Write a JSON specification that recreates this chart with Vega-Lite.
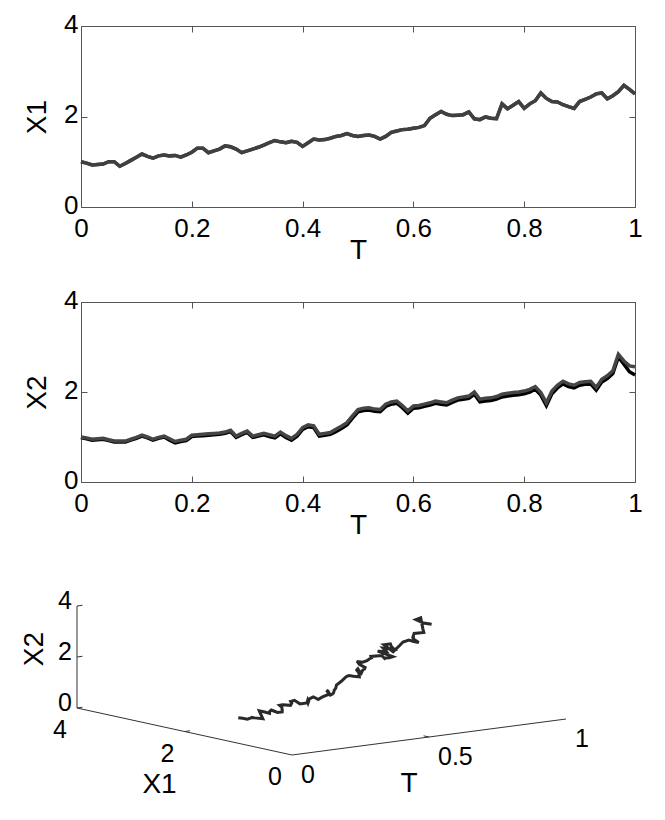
{
  "$schema": "https://vega.github.io/schema/vega-lite/v6.json",
  "autosize": {"type": "pad"},
  "padding": {"left": 21, "top": 11, "right": 5, "bottom": 5},
  "background": "white",
  "bounds": "flush",
  "spacing": 95,
  "datasets": {
    "path": [
      {"T":0.00,"X1":1.00,"X2":1.00,"X2b":0.99},
      {"T":0.01,"X1":0.97,"X2":0.98,"X2b":0.96},
      {"T":0.02,"X1":0.93,"X2":0.95,"X2b":0.93},
      {"T":0.03,"X1":0.94,"X2":0.96,"X2b":0.94},
      {"T":0.04,"X1":0.95,"X2":0.97,"X2b":0.95},
      {"T":0.05,"X1":1.00,"X2":0.94,"X2b":0.92},
      {"T":0.06,"X1":1.00,"X2":0.91,"X2b":0.89},
      {"T":0.07,"X1":0.90,"X2":0.91,"X2b":0.89},
      {"T":0.08,"X1":0.96,"X2":0.91,"X2b":0.89},
      {"T":0.09,"X1":1.03,"X2":0.95,"X2b":0.93},
      {"T":0.10,"X1":1.10,"X2":0.99,"X2b":0.97},
      {"T":0.11,"X1":1.17,"X2":1.04,"X2b":1.02},
      {"T":0.12,"X1":1.12,"X2":1.00,"X2b":0.98},
      {"T":0.13,"X1":1.08,"X2":0.95,"X2b":0.93},
      {"T":0.14,"X1":1.13,"X2":0.99,"X2b":0.97},
      {"T":0.15,"X1":1.15,"X2":1.02,"X2b":1.00},
      {"T":0.16,"X1":1.13,"X2":0.96,"X2b":0.93},
      {"T":0.17,"X1":1.14,"X2":0.90,"X2b":0.87},
      {"T":0.18,"X1":1.10,"X2":0.93,"X2b":0.90},
      {"T":0.19,"X1":1.15,"X2":0.95,"X2b":0.92},
      {"T":0.20,"X1":1.21,"X2":1.04,"X2b":1.01},
      {"T":0.21,"X1":1.30,"X2":1.05,"X2b":1.02},
      {"T":0.22,"X1":1.30,"X2":1.06,"X2b":1.03},
      {"T":0.23,"X1":1.20,"X2":1.07,"X2b":1.04},
      {"T":0.24,"X1":1.24,"X2":1.08,"X2b":1.05},
      {"T":0.25,"X1":1.28,"X2":1.09,"X2b":1.06},
      {"T":0.26,"X1":1.35,"X2":1.11,"X2b":1.08},
      {"T":0.27,"X1":1.33,"X2":1.15,"X2b":1.12},
      {"T":0.28,"X1":1.28,"X2":1.02,"X2b":0.99},
      {"T":0.29,"X1":1.20,"X2":1.08,"X2b":1.05},
      {"T":0.30,"X1":1.24,"X2":1.13,"X2b":1.10},
      {"T":0.31,"X1":1.28,"X2":1.02,"X2b":0.99},
      {"T":0.32,"X1":1.32,"X2":1.05,"X2b":1.02},
      {"T":0.33,"X1":1.37,"X2":1.08,"X2b":1.05},
      {"T":0.34,"X1":1.42,"X2":1.05,"X2b":1.01},
      {"T":0.35,"X1":1.47,"X2":1.02,"X2b":0.98},
      {"T":0.36,"X1":1.44,"X2":1.11,"X2b":1.07},
      {"T":0.37,"X1":1.42,"X2":1.03,"X2b":0.99},
      {"T":0.38,"X1":1.45,"X2":0.97,"X2b":0.93},
      {"T":0.39,"X1":1.43,"X2":1.06,"X2b":1.02},
      {"T":0.40,"X1":1.34,"X2":1.21,"X2b":1.17},
      {"T":0.41,"X1":1.42,"X2":1.27,"X2b":1.23},
      {"T":0.42,"X1":1.50,"X2":1.25,"X2b":1.21},
      {"T":0.43,"X1":1.48,"X2":1.06,"X2b":1.02},
      {"T":0.44,"X1":1.49,"X2":1.08,"X2b":1.04},
      {"T":0.45,"X1":1.52,"X2":1.10,"X2b":1.06},
      {"T":0.46,"X1":1.56,"X2":1.17,"X2b":1.12},
      {"T":0.47,"X1":1.58,"X2":1.24,"X2b":1.19},
      {"T":0.48,"X1":1.62,"X2":1.32,"X2b":1.27},
      {"T":0.49,"X1":1.58,"X2":1.47,"X2b":1.42},
      {"T":0.50,"X1":1.56,"X2":1.61,"X2b":1.56},
      {"T":0.51,"X1":1.58,"X2":1.64,"X2b":1.59},
      {"T":0.52,"X1":1.59,"X2":1.65,"X2b":1.60},
      {"T":0.53,"X1":1.56,"X2":1.62,"X2b":1.57},
      {"T":0.54,"X1":1.50,"X2":1.61,"X2b":1.56},
      {"T":0.55,"X1":1.56,"X2":1.73,"X2b":1.68},
      {"T":0.56,"X1":1.65,"X2":1.78,"X2b":1.73},
      {"T":0.57,"X1":1.68,"X2":1.80,"X2b":1.75},
      {"T":0.58,"X1":1.71,"X2":1.70,"X2b":1.65},
      {"T":0.59,"X1":1.72,"X2":1.58,"X2b":1.53},
      {"T":0.60,"X1":1.74,"X2":1.69,"X2b":1.64},
      {"T":0.61,"X1":1.76,"X2":1.70,"X2b":1.65},
      {"T":0.62,"X1":1.80,"X2":1.73,"X2b":1.68},
      {"T":0.63,"X1":1.96,"X2":1.76,"X2b":1.71},
      {"T":0.64,"X1":2.04,"X2":1.80,"X2b":1.75},
      {"T":0.65,"X1":2.11,"X2":1.78,"X2b":1.73},
      {"T":0.66,"X1":2.05,"X2":1.76,"X2b":1.71},
      {"T":0.67,"X1":2.02,"X2":1.82,"X2b":1.77},
      {"T":0.68,"X1":2.03,"X2":1.87,"X2b":1.82},
      {"T":0.69,"X1":2.04,"X2":1.89,"X2b":1.84},
      {"T":0.70,"X1":2.10,"X2":1.91,"X2b":1.86},
      {"T":0.71,"X1":1.95,"X2":2.00,"X2b":1.95},
      {"T":0.72,"X1":1.93,"X2":1.84,"X2b":1.78},
      {"T":0.73,"X1":1.99,"X2":1.86,"X2b":1.80},
      {"T":0.74,"X1":1.96,"X2":1.87,"X2b":1.81},
      {"T":0.75,"X1":1.95,"X2":1.90,"X2b":1.84},
      {"T":0.76,"X1":2.28,"X2":1.95,"X2b":1.89},
      {"T":0.77,"X1":2.17,"X2":1.97,"X2b":1.91},
      {"T":0.78,"X1":2.25,"X2":1.99,"X2b":1.93},
      {"T":0.79,"X1":2.33,"X2":2.00,"X2b":1.94},
      {"T":0.80,"X1":2.18,"X2":2.02,"X2b":1.96},
      {"T":0.81,"X1":2.28,"X2":2.06,"X2b":2.00},
      {"T":0.82,"X1":2.35,"X2":2.12,"X2b":2.06},
      {"T":0.83,"X1":2.52,"X2":1.99,"X2b":1.93},
      {"T":0.84,"X1":2.40,"X2":1.76,"X2b":1.70},
      {"T":0.85,"X1":2.33,"X2":2.02,"X2b":1.96},
      {"T":0.86,"X1":2.32,"X2":2.15,"X2b":2.09},
      {"T":0.87,"X1":2.26,"X2":2.24,"X2b":2.18},
      {"T":0.88,"X1":2.22,"X2":2.18,"X2b":2.12},
      {"T":0.89,"X1":2.18,"X2":2.15,"X2b":2.09},
      {"T":0.90,"X1":2.33,"X2":2.21,"X2b":2.15},
      {"T":0.91,"X1":2.38,"X2":2.23,"X2b":2.17},
      {"T":0.92,"X1":2.43,"X2":2.24,"X2b":2.18},
      {"T":0.93,"X1":2.50,"X2":2.10,"X2b":2.04},
      {"T":0.94,"X1":2.52,"X2":2.28,"X2b":2.22},
      {"T":0.95,"X1":2.39,"X2":2.36,"X2b":2.30},
      {"T":0.96,"X1":2.46,"X2":2.47,"X2b":2.41},
      {"T":0.97,"X1":2.55,"X2":2.84,"X2b":2.78},
      {"T":0.98,"X1":2.69,"X2":2.69,"X2b":2.62},
      {"T":0.99,"X1":2.60,"X2":2.58,"X2b":2.45},
      {"T":1.00,"X1":2.50,"X2":2.56,"X2b":2.38}
    ],
    "axes3d": [
      {"T":0,"X1":4,"X2":0,"Te":0,"X1e":4,"X2e":4},
      {"T":0,"X1":4,"X2":0,"Te":0,"X1e":0,"X2e":0},
      {"T":0,"X1":0,"X2":0,"Te":1,"X1e":0,"X2e":0}
    ],
    "ticks3d": [
      {"T":0,"X1":4,"X2":0,"Te":0.02,"X1e":4,"X2e":0},
      {"T":0,"X1":4,"X2":2,"Te":0.02,"X1e":4,"X2e":2},
      {"T":0,"X1":4,"X2":4,"Te":0.02,"X1e":4,"X2e":4},
      {"T":0,"X1":2,"X2":0,"Te":0.02,"X1e":2,"X2e":0},
      {"T":0.5,"X1":0,"X2":0,"Te":0.5,"X1e":0.1,"X2e":0}
    ],
    "labels3d": [
      {"kind":"x2","T":0,"X1":4,"X2":0,"label":"0"},
      {"kind":"x2","T":0,"X1":4,"X2":2,"label":"2"},
      {"kind":"x2","T":0,"X1":4,"X2":4,"label":"4"},
      {"kind":"x1","T":0,"X1":0,"X2":0,"label":"0"},
      {"kind":"x1","T":0,"X1":2,"X2":0,"label":"2"},
      {"kind":"x1","T":0,"X1":4,"X2":0,"label":"4"},
      {"kind":"t","T":0,"X1":0,"X2":0,"label":"0"},
      {"kind":"t","T":0.5,"X1":0,"X2":0,"label":"0.5"},
      {"kind":"t","T":1,"X1":0,"X2":0,"label":"1"},
      {"kind":"titleX2","T":0,"X1":4,"X2":2,"label":"X2"},
      {"kind":"titleX1","T":0,"X1":2,"X2":0,"label":"X1"},
      {"kind":"titleT","T":0.5,"X1":0,"X2":0,"label":"T"}
    ]
  },
  "vconcat": [
    {
      "width": 554,
      "height": 181,
      "data": {"name": "path"},
      "layer": [
        {
          "mark": {"type": "line", "color": "#404040", "strokeWidth": 3.5},
          "encoding": {
            "x": {"field": "T", "type": "quantitative", "scale": {"domain": [0, 1], "nice": false},
                  "axis": {"orient": "top", "labels": false, "title": null, "values": [0, 0.2, 0.4, 0.6, 0.8, 1], "tickSize": -6}},
            "y": {"field": "X1", "type": "quantitative", "scale": {"domain": [0, 4], "nice": false},
                  "axis": {"orient": "right", "labels": false, "title": null, "values": [0, 2, 4], "tickSize": -6}}
          }
        },
        {
          "mark": {"type": "line", "color": "#404040", "strokeWidth": 3.5},
          "encoding": {
            "x": {"field": "T", "type": "quantitative", "scale": {"domain": [0, 1], "nice": false},
                  "axis": {"orient": "bottom", "title": "T", "values": [0, 0.2, 0.4, 0.6, 0.8, 1], "format": "~g", "tickSize": -6, "labelPadding": 14, "titlePadding": -5}},
            "y": {"field": "X1", "type": "quantitative", "scale": {"domain": [0, 4], "nice": false},
                  "axis": {"orient": "left", "title": "X1", "values": [0, 2, 4], "format": "~g", "tickSize": -6, "labelPadding": 9, "labelOffset": -2, "titlePadding": 12}}
          }
        }
      ],
      "resolve": {"axis": {"x": "independent", "y": "independent"}}
    },
    {
      "width": 554,
      "height": 180,
      "data": {"name": "path"},
      "layer": [
        {
          "mark": {"type": "line", "color": "#000000", "strokeWidth": 3.5},
          "encoding": {
            "x": {"field": "T", "type": "quantitative", "scale": {"domain": [0, 1], "nice": false},
                  "axis": {"orient": "top", "labels": false, "title": null, "values": [0, 0.2, 0.4, 0.6, 0.8, 1], "tickSize": -6}},
            "y": {"field": "X2b", "type": "quantitative", "scale": {"domain": [0, 4], "nice": false},
                  "axis": {"orient": "right", "labels": false, "title": null, "values": [0, 2, 4], "tickSize": -6}}
          }
        },
        {
          "mark": {"type": "line", "color": "#454545", "strokeWidth": 3.5},
          "encoding": {
            "x": {"field": "T", "type": "quantitative", "scale": {"domain": [0, 1], "nice": false},
                  "axis": {"orient": "bottom", "title": "T", "values": [0, 0.2, 0.4, 0.6, 0.8, 1], "format": "~g", "tickSize": -6, "labelPadding": 14, "titlePadding": -5}},
            "y": {"field": "X2", "type": "quantitative", "scale": {"domain": [0, 4], "nice": false},
                  "axis": {"orient": "left", "title": "X2", "values": [0, 2, 4], "format": "~g", "tickSize": -6, "labelPadding": 9, "labelOffset": -2, "titlePadding": 12}}
          }
        }
      ],
      "resolve": {"axis": {"x": "independent", "y": "independent"}}
    },
    {
      "width": 554,
      "height": 178,
      "layer": [
        {
          "data": {"name": "axes3d"},
          "transform": [
            {"calculate": "274*datum.T - 53.75*datum.X1", "as": "u"},
            {"calculate": "36*datum.T + 11.75*datum.X1 + 25.5*datum.X2", "as": "v"},
            {"calculate": "274*datum.Te - 53.75*datum.X1e", "as": "u2"},
            {"calculate": "36*datum.Te + 11.75*datum.X1e + 25.5*datum.X2e", "as": "v2"}
          ],
          "mark": {"type": "rule", "color": "#333333", "strokeWidth": 1},
          "encoding": {
            "x": {"field": "u", "type": "quantitative", "scale": {"domain": [-211, 343], "nice": false, "zero": false}, "axis": null},
            "y": {"field": "v", "type": "quantitative", "scale": {"domain": [0, 178], "nice": false, "zero": false}, "axis": null},
            "x2": {"field": "u2"},
            "y2": {"field": "v2"}
          }
        },
        {
          "data": {"name": "ticks3d"},
          "transform": [
            {"calculate": "274*datum.T - 53.75*datum.X1", "as": "u"},
            {"calculate": "36*datum.T + 11.75*datum.X1 + 25.5*datum.X2", "as": "v"},
            {"calculate": "274*datum.Te - 53.75*datum.X1e", "as": "u2"},
            {"calculate": "36*datum.Te + 11.75*datum.X1e + 25.5*datum.X2e", "as": "v2"}
          ],
          "mark": {"type": "rule", "color": "#333333", "strokeWidth": 1},
          "encoding": {
            "x": {"field": "u", "type": "quantitative", "axis": null},
            "y": {"field": "v", "type": "quantitative", "axis": null},
            "x2": {"field": "u2"},
            "y2": {"field": "v2"}
          }
        },
        {
          "data": {"name": "path"},
          "transform": [
            {"calculate": "274*datum.T - 53.75*datum.X1", "as": "u"},
            {"calculate": "36*datum.T + 11.75*datum.X1 + 25.5*datum.X2", "as": "v"}
          ],
          "mark": {"type": "line", "color": "#2a2a2a", "strokeWidth": 3},
          "encoding": {
            "x": {"field": "u", "type": "quantitative", "axis": null},
            "y": {"field": "v", "type": "quantitative", "axis": null},
            "order": {"field": "T", "type": "quantitative"}
          }
        },
        {
          "data": {"name": "labels3d"},
          "transform": [
            {"filter": "datum.kind == 'x2'"},
            {"calculate": "274*datum.T - 53.75*datum.X1", "as": "u"},
            {"calculate": "36*datum.T + 11.75*datum.X1 + 25.5*datum.X2", "as": "v"}
          ],
          "mark": {"type": "text", "font": "Liberation Sans", "fontSize": 25, "align": "right", "baseline": "middle", "dx": -5, "dy": -5, "color": "black"},
          "encoding": {
            "x": {"field": "u", "type": "quantitative", "axis": null},
            "y": {"field": "v", "type": "quantitative", "axis": null},
            "text": {"field": "label"}
          }
        },
        {
          "data": {"name": "labels3d"},
          "transform": [
            {"filter": "datum.kind == 'x1'"},
            {"calculate": "274*datum.T - 53.75*datum.X1", "as": "u"},
            {"calculate": "36*datum.T + 11.75*datum.X1 + 25.5*datum.X2", "as": "v"}
          ],
          "mark": {"type": "text", "font": "Liberation Sans", "fontSize": 25, "align": "center", "baseline": "middle", "dx": -17, "dy": 22, "color": "black"},
          "encoding": {
            "x": {"field": "u", "type": "quantitative", "axis": null},
            "y": {"field": "v", "type": "quantitative", "axis": null},
            "text": {"field": "label"}
          }
        },
        {
          "data": {"name": "labels3d"},
          "transform": [
            {"filter": "datum.kind == 't'"},
            {"calculate": "274*datum.T - 53.75*datum.X1", "as": "u"},
            {"calculate": "36*datum.T + 11.75*datum.X1 + 25.5*datum.X2", "as": "v"}
          ],
          "mark": {"type": "text", "font": "Liberation Sans", "fontSize": 25, "align": "left", "baseline": "middle", "dx": 9, "dy": 20, "color": "black"},
          "encoding": {
            "x": {"field": "u", "type": "quantitative", "axis": null},
            "y": {"field": "v", "type": "quantitative", "axis": null},
            "text": {"field": "label"}
          }
        },
        {
          "data": {"name": "labels3d"},
          "transform": [
            {"filter": "datum.kind == 'titleX2'"},
            {"calculate": "274*datum.T - 53.75*datum.X1", "as": "u"},
            {"calculate": "36*datum.T + 11.75*datum.X1 + 25.5*datum.X2", "as": "v"}
          ],
          "mark": {"type": "text", "font": "Liberation Sans", "fontSize": 28, "align": "center", "baseline": "middle", "angle": 270, "dx": 8, "dy": -42, "color": "black"},
          "encoding": {
            "x": {"field": "u", "type": "quantitative", "axis": null},
            "y": {"field": "v", "type": "quantitative", "axis": null},
            "text": {"field": "label"}
          }
        },
        {
          "data": {"name": "labels3d"},
          "transform": [
            {"filter": "datum.kind == 'titleX1'"},
            {"calculate": "274*datum.T - 53.75*datum.X1", "as": "u"},
            {"calculate": "36*datum.T + 11.75*datum.X1 + 25.5*datum.X2", "as": "v"}
          ],
          "mark": {"type": "text", "font": "Liberation Sans", "fontSize": 28, "align": "center", "baseline": "middle", "dx": -25, "dy": 53, "color": "black"},
          "encoding": {
            "x": {"field": "u", "type": "quantitative", "axis": null},
            "y": {"field": "v", "type": "quantitative", "axis": null},
            "text": {"field": "label"}
          }
        },
        {
          "data": {"name": "labels3d"},
          "transform": [
            {"filter": "datum.kind == 'titleT'"},
            {"calculate": "274*datum.T - 53.75*datum.X1", "as": "u"},
            {"calculate": "36*datum.T + 11.75*datum.X1 + 25.5*datum.X2", "as": "v"}
          ],
          "mark": {"type": "text", "font": "Liberation Sans", "fontSize": 28, "align": "center", "baseline": "middle", "dx": -20, "dy": 47, "color": "black"},
          "encoding": {
            "x": {"field": "u", "type": "quantitative", "axis": null},
            "y": {"field": "v", "type": "quantitative", "axis": null},
            "text": {"field": "label"}
          }
        }
      ]
    }
  ],
  "config": {
    "view": {"stroke": null},
    "axis": {
      "labelFont": "Liberation Sans",
      "labelFontSize": 26,
      "labelColor": "#000000",
      "titleFont": "Liberation Sans",
      "titleFontSize": 28,
      "titleFontWeight": "normal",
      "titleColor": "#000000",
      "domainColor": "#555555",
      "tickColor": "#555555",
      "grid": false,
      "labelFlush": false,
      "labelOverlap": false,
      "labelBound": false
    }
  }
}
